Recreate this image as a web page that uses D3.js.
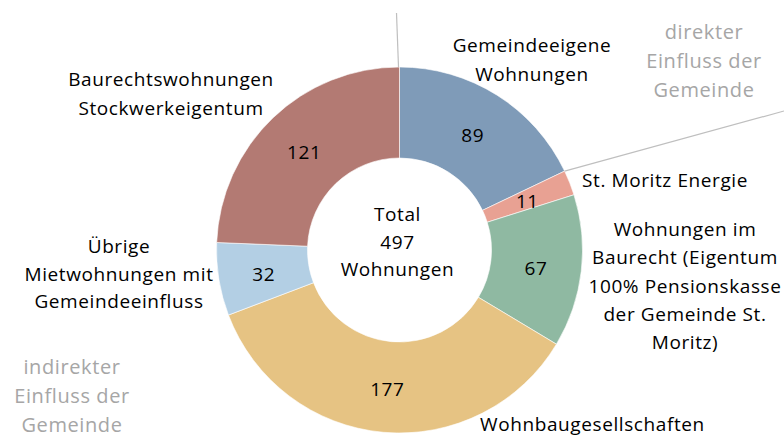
<!DOCTYPE html>
<html>
<head>
<meta charset="utf-8">
<script src="https://cdn.jsdelivr.net/npm/d3@7"></script>
<style>
    body { margin: 0; background: #fff; }
    svg { display: block; }
    text { font-family: "Open Sans", sans-serif; letter-spacing: 0.6px; }
</style>
</head>
<body>
<svg></svg>
<script>
let categories = [
    "Gemeindeeigene Wohnungen",
    "St. Moritz Energie",
    "Wohnungen im Baurecht (Eigentum 100% Pensionskasse der Gemeinde St. Moritz)",
    "Wohnbaugesellschaften",
    "Übrige Mietwohnungen mit Gemeindeeinfluss",
    "Baurechtswohnungen Stockwerkeigentum"
];
let values = [89, 11, 67, 177, 32, 121];
let colors = ["#7f9bb8", "#e8a193", "#8fb9a2", "#e6c383", "#b3cfe4", "#b37a73"];
let totalLines = ["Total", "497", "Wohnungen"];
let directLines = ["direkter", "Einfluss der", "Gemeinde"];
let indirectLines = ["indirekter", "Einfluss der", "Gemeinde"];

// wrapped category labels and where they sit
let labelLines = [
    ["Gemeindeeigene", "Wohnungen"],
    ["St. Moritz Energie"],
    ["Wohnungen im", "Baurecht (Eigentum", "100% Pensionskasse", "der Gemeinde St.", "Moritz)"],
    ["Wohnbaugesellschaften"],
    ["Übrige", "Mietwohnungen mit", "Gemeindeeinfluss"],
    ["Baurechtswohnungen", "Stockwerkeigentum"]
];
let labelPos = [
    {x: 532, y: 52, anchor: "middle", lh: 29},
    {x: 582, y: 187, anchor: "start", lh: 29},
    {x: 685, y: 236, anchor: "middle", lh: 28.3},
    {x: 480, y: 431, anchor: "start", lh: 29},
    {x: 119, y: 253, anchor: "middle", lh: 27.5},
    {x: 171, y: 86, anchor: "middle", lh: 29}
];

let width = 784,
    height = 437,
    cx = 399.5,
    cy = 250,
    outerR = 183,
    innerR = 92;

let svg = d3.select("svg")
    .attr("width", width)
    .attr("height", height);

let pie = d3.pie().sort(null).value(d => d);
let arcs = pie(values);

let arc = d3.arc()
    .innerRadius(innerR)
    .outerRadius(outerR);

let g = svg.append("g")
    .attr("transform", "translate(" + cx + "," + cy + ")");

g.selectAll("path")
    .data(arcs).enter()
    .append("path")
    .attr("d", arc)
    .attr("fill", (d, i) => colors[i])
    .attr("stroke", "#fff")
    .attr("stroke-width", 0.6);

// value labels
g.selectAll("text.val")
    .data(arcs).enter()
    .append("text")
    .attr("class", "val")
    .attr("x", d => arc.centroid(d)[0])
    .attr("y", d => arc.centroid(d)[1] + 2)
    .attr("dy", "0.35em")
    .attr("text-anchor", "middle")
    .style("font-size", "19px")
    .attr("fill", "#000")
    .text(d => d.data);

// center text
g.append("text")
    .attr("text-anchor", "middle")
    .style("font-size", "19px")
    .selectAll("tspan")
    .data(totalLines).enter()
    .append("tspan")
    .attr("x", -2)
    .attr("y", (d, i) => -29 + i * 27.5)
    .text(d => d);

// separator lines between direct / indirect influence
let a0 = arcs[0].startAngle, a1 = arcs[1].startAngle;
let pt = a => [cx + outerR * Math.sin(a), cy - outerR * Math.cos(a)];
let p0 = pt(a0), p1 = pt(a1);
svg.append("line")
    .attr("x1", p0[0] - 1).attr("y1", p0[1])
    .attr("x2", p0[0] - 3).attr("y2", 13)
    .attr("stroke", "#bfbfbf").attr("stroke-width", 1.2);
svg.append("line")
    .attr("x1", p1[0]).attr("y1", p1[1])
    .attr("x2", width).attr("y2", 111)
    .attr("stroke", "#bfbfbf").attr("stroke-width", 1.2);

// category labels
labelLines.forEach((lines, i) => {
    let p = labelPos[i];
    svg.append("text")
        .attr("text-anchor", p.anchor)
        .style("font-size", "19px")
        .attr("fill", "#000")
        .selectAll("tspan")
        .data(lines).enter()
        .append("tspan")
        .attr("x", p.x)
        .attr("y", (d, j) => p.y + j * p.lh)
        .text(d => d);
});

function greyBlock(lines, x, y) {
    svg.append("text")
        .attr("text-anchor", "middle")
        .style("font-size", "20px")
        .attr("fill", "#a6a6a6")
        .selectAll("tspan")
        .data(lines).enter()
        .append("tspan")
        .attr("x", x)
        .attr("y", (d, j) => y + j * 29)
        .text(d => d);
}
greyBlock(directLines, 704, 39);
greyBlock(indirectLines, 72, 374);
</script>
</body>
</html>
